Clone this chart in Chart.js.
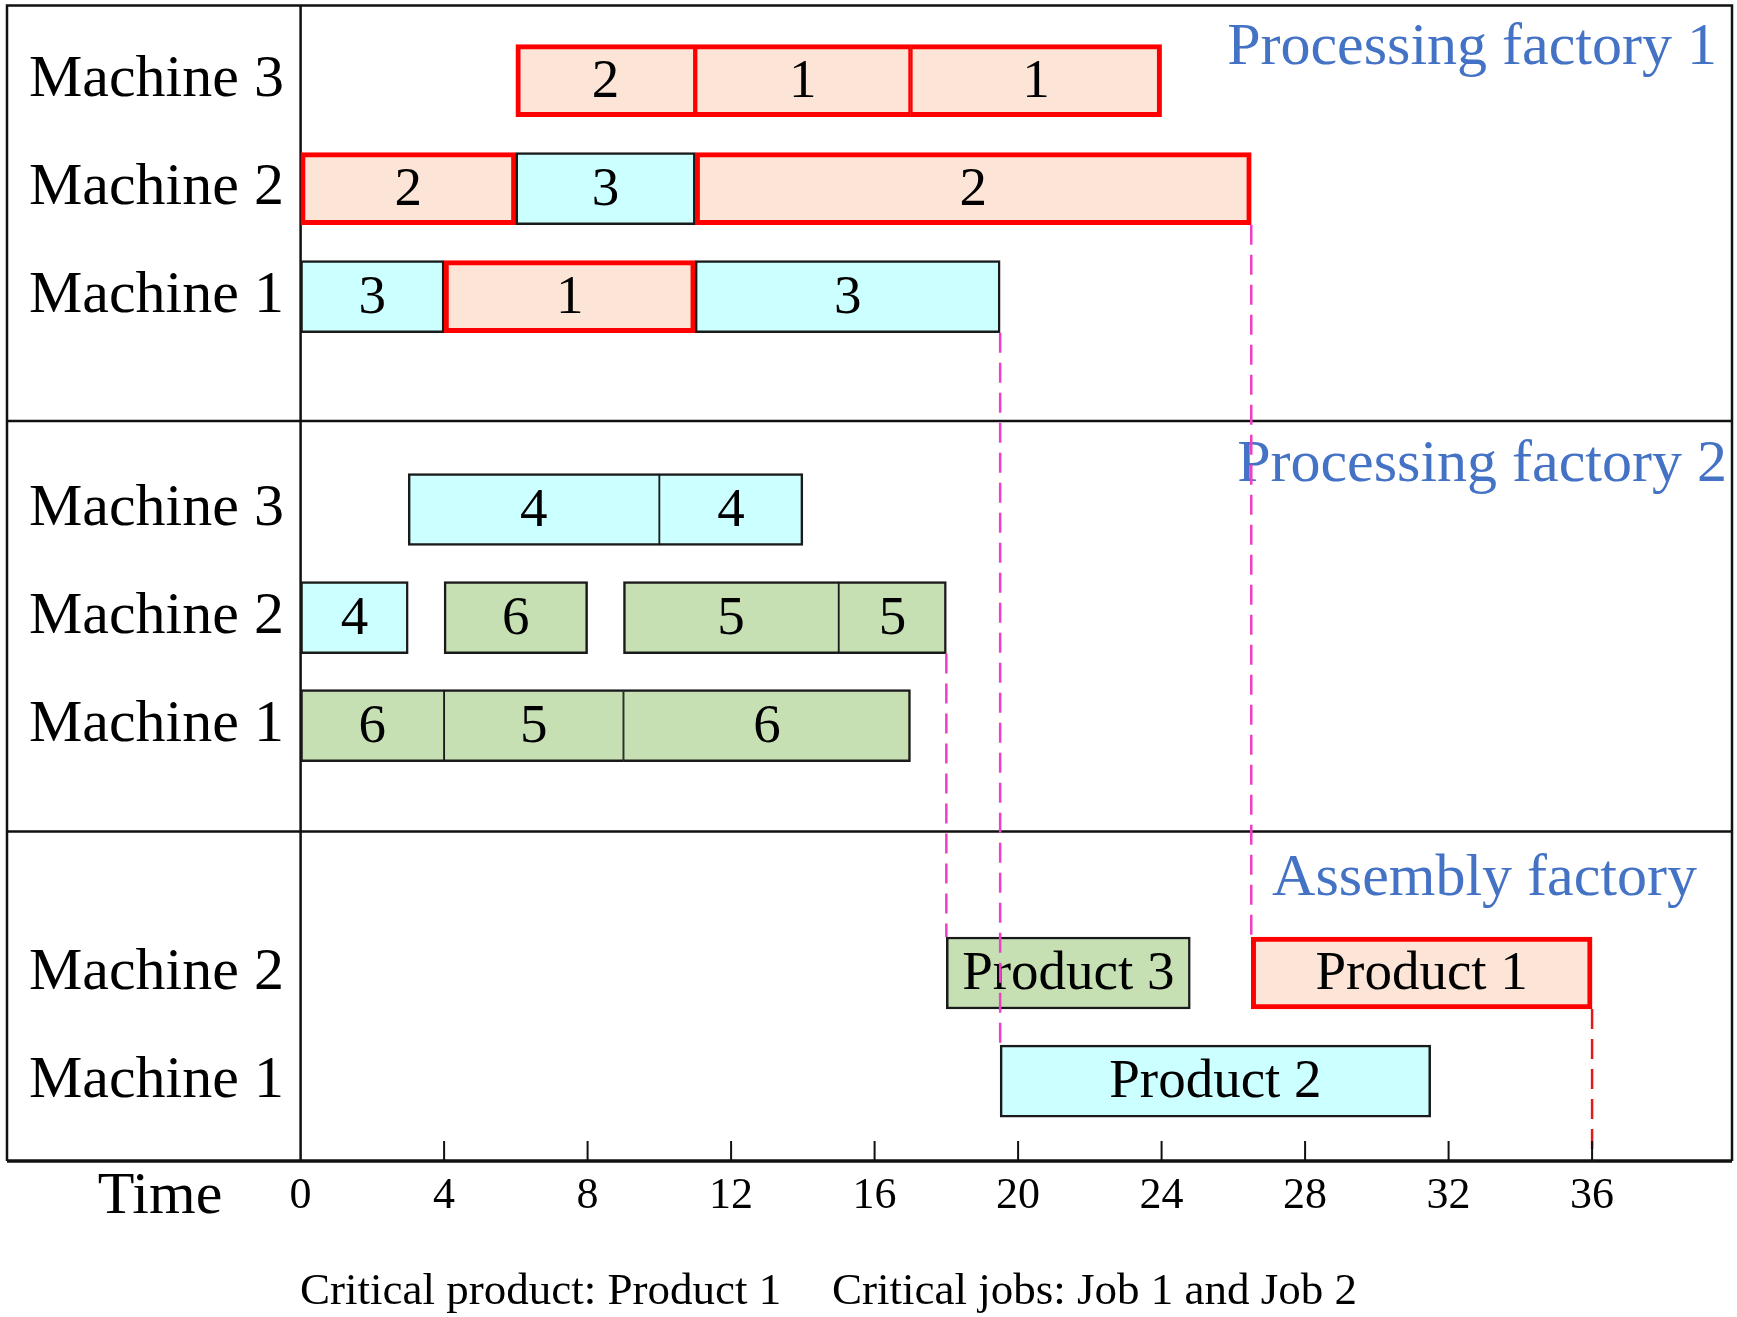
<!DOCTYPE html>
<html>
<head>
<meta charset="utf-8">
<title>Distributed scheduling Gantt chart</title>
<script src="https://cdn.jsdelivr.net/npm/chart.js@4.4.1/dist/chart.umd.min.js"></script>
<style>
  html, body { margin: 0; padding: 0; background: #fff; }
  #gantt { display: block; }
</style>
</head>
<body>
<canvas id="gantt" width="1737" height="1317"></canvas>
<script>
// operations on each machine: [start, end, job]
let pf1Machine3 = [[6, 11, 2], [11, 17, 1], [17, 24, 1]];
let pf1Machine2 = [[0, 6, 2], [6, 11, 3], [11, 26.5, 2]];
let pf1Machine1 = [[0, 4, 3], [4, 11, 1], [11, 19.5, 3]];
let pf2Machine3 = [[3, 10, 4], [10, 14, 4]];
let pf2Machine2 = [[0, 3, 4], [4, 8, 6], [9, 15, 5], [15, 18, 5]];
let pf2Machine1 = [[0, 4, 6], [4, 9, 5], [9, 17, 6]];
// assembly: [start, end, product]
let asmMachine2 = [[18, 24.8, 3], [26.5, 36, 1]];
let asmMachine1 = [[19.5, 31.5, 2]];

let timeTicks = [0, 4, 8, 12, 16, 20, 24, 28, 32, 36];
let makespan = 36;

// dashed hand-over lines: time, row where the job ends, row where the product starts
let handoffTimes = [19.5, 26.5, 18];
let handoffFrom = [2, 1, 4];
let handoffTo = [7, 6, 6];

let factoryTitles = ['Processing factory 1', 'Processing factory 2', 'Assembly factory'];
let noteParts = ['Critical product: Product 1', 'Critical jobs: Job 1 and Job 2'];

// rows of the chart (y is in row units, 0 = time axis)
let rows = [
    {label: 'Machine 3', y: 10, tasks: pf1Machine3, kind: 'job'},
    {label: 'Machine 2', y: 9, tasks: pf1Machine2, kind: 'job'},
    {label: 'Machine 1', y: 8, tasks: pf1Machine1, kind: 'job'},
    {label: 'Machine 3', y: 6.03, tasks: pf2Machine3, kind: 'job'},
    {label: 'Machine 2', y: 5.03, tasks: pf2Machine2, kind: 'job'},
    {label: 'Machine 1', y: 4.03, tasks: pf2Machine1, kind: 'job'},
    {label: 'Machine 2', y: 1.74, tasks: asmMachine2, kind: 'product'},
    {label: 'Machine 1', y: 0.74, tasks: asmMachine1, kind: 'product'}
];
let panelEdges = [6.85, 3.05];
let yTop = 10.7;
let barHalf = 0.333;

let fills = {1: '#FCE4D6', 2: '#CCFFFF', 3: '#C6E0B4'};
let borders = {1: '#FF0000', 2: '#1a1a1a', 3: '#1a1a1a'};
let serif = '"Liberation Serif", "Times New Roman", serif';

// flat list of bars
let tasks = [];
rows.forEach(function(row) {
    let groupOf = function(o) { return row.kind === 'job' ? Math.ceil(o[2] / 2) : o[2]; };
    row.tasks.forEach(function(t, i) {
        let group = groupOf(t);
        let prev = row.tasks[i - 1];
        let next = row.tasks[i + 1];
        tasks.push({
            x: [t[0], t[1]],
            y: row.y,
            group: group,
            text: row.kind === 'job' ? String(t[2]) : 'Product ' + t[2],
            joinLeft: !!(prev && prev[1] === t[0] && groupOf(prev) === group),
            joinRight: !!(next && next[0] === t[1] && groupOf(next) === group)
        });
    });
});

let datasets = [{
    type: 'bar',
    data: tasks,
    order: 2,
    barThickness: 72,
    borderSkipped: false,
    backgroundColor: function(c) { return c.raw ? fills[c.raw.group] : '#fff'; },
    borderColor: function(c) { return c.raw ? borders[c.raw.group] : '#000'; },
    borderWidth: function(c) {
        if (!c.raw) return 2;
        let w = c.raw.group === 1 ? 5 : 2.5;
        return {top: w, bottom: w, left: c.raw.joinLeft ? w / 2 : w, right: c.raw.joinRight ? w / 2 : w};
    }
}];

handoffTimes.forEach(function(t, i) {
    datasets.push({
        type: 'line',
        data: [{x: t, y: rows[handoffFrom[i]].y - barHalf}, {x: t, y: rows[handoffTo[i]].y + barHalf}],
        borderColor: '#EE3FC6',
        borderWidth: 2.5,
        borderDash: [20, 10],
        pointRadius: 0,
        order: 1
    });
});
datasets.push({
    type: 'line',
    data: [{x: makespan, y: rows[6].y - barHalf}, {x: makespan, y: 0}],
    borderColor: '#E3191C',
    borderWidth: 2.5,
    borderDash: [20, 10],
    pointRadius: 0,
    order: 1
});

function rowLabel(value) {
    let r = rows.find(function(row) { return Math.abs(row.y - value) < 1e-6; });
    return r ? r.label : '';
}

let barText = {
    id: 'barText',
    afterDatasetDraw: function(chart, args) {
        if (args.index !== 0) return;
        let ctx = chart.ctx;
        ctx.save();
        ctx.font = '55px ' + serif;
        ctx.fillStyle = '#000';
        ctx.textAlign = 'center';
        ctx.textBaseline = 'middle';
        args.meta.data.forEach(function(bar, i) {
            let p = bar.getProps(['x', 'y', 'base'], true);
            ctx.fillText(tasks[i].text, (p.x + p.base) / 2, p.y + 2);
        });
        ctx.restore();
    }
};

let frame = {
    id: 'frame',
    beforeDraw: function(chart) {
        let ctx = chart.ctx;
        ctx.save();
        ctx.fillStyle = '#fff';
        ctx.fillRect(0, 0, chart.width, chart.height);
        ctx.restore();
    },
    beforeDatasetsDraw: function(chart) {
        let ctx = chart.ctx;
        let a = chart.chartArea;
        let y = chart.scales.y;
        ctx.save();
        ctx.strokeStyle = '#111';
        ctx.lineWidth = 2.5;
        ctx.beginPath();
        ctx.moveTo(7, a.bottom);
        ctx.lineTo(7, a.top + 0.5);
        ctx.lineTo(a.right, a.top + 0.5);
        ctx.lineTo(a.right, a.bottom);
        ctx.moveTo(a.left, a.top);
        ctx.lineTo(a.left, a.bottom);
        panelEdges.forEach(function(v) {
            let py = y.getPixelForValue(v);
            ctx.moveTo(7, py);
            ctx.lineTo(a.right, py);
        });
        ctx.stroke();
        ctx.lineWidth = 3.5;
        ctx.beginPath();
        ctx.moveTo(7, a.bottom);
        ctx.lineTo(a.right, a.bottom);
        ctx.stroke();

        // factory names, top right of each panel
        let tops = [yTop].concat(panelEdges);
        let rightGap = [15, 5, 35];
        let drop = [59, 60, 64];
        ctx.font = '60px ' + serif;
        ctx.fillStyle = '#4472C4';
        ctx.textAlign = 'right';
        ctx.textBaseline = 'alphabetic';
        factoryTitles.forEach(function(t, i) {
            ctx.fillText(t, a.right - rightGap[i], y.getPixelForValue(tops[i]) + drop[i]);
        });
        ctx.restore();
    },
    afterDraw: function(chart) {
        let ctx = chart.ctx;
        let a = chart.chartArea;
        let x = chart.scales.x;
        ctx.save();
        // small inward tick marks
        ctx.strokeStyle = '#111';
        ctx.lineWidth = 2;
        ctx.beginPath();
        timeTicks.forEach(function(v) {
            if (v === 0) return;
            let px = x.getPixelForValue(v);
            ctx.moveTo(px, a.bottom);
            ctx.lineTo(px, a.bottom - 20);
        });
        ctx.stroke();

        ctx.fillStyle = '#000';
        ctx.font = '60px ' + serif;
        ctx.textAlign = 'center';
        ctx.textBaseline = 'middle';
        ctx.fillText('Time', 160, a.bottom + 36);

        ctx.font = '45px ' + serif;
        ctx.textAlign = 'left';
        ctx.textBaseline = 'alphabetic';
        ctx.fillText(noteParts[0], 300, 1304);
        ctx.fillText(noteParts[1], 832, 1304);
        ctx.restore();
    }
};

let config = {
    type: 'bar',
    data: {datasets: datasets},
    options: {
        indexAxis: 'y',
        responsive: false,
        animation: false,
        devicePixelRatio: 1,
        layout: {padding: {left: 29, right: 5, top: 5, bottom: 0}},
        plugins: {
            legend: {display: false},
            tooltip: {enabled: false}
        },
        scales: {
            x: {
                type: 'linear',
                min: 0,
                max: 39.9,
                offset: false,
                grid: {display: false, drawTicks: false},
                border: {display: false},
                afterBuildTicks: function(scale) {
                    scale.ticks = timeTicks.map(function(v) { return {value: v}; });
                },
                afterFit: function(scale) {
                    scale.height = 156;
                    scale.paddingLeft = 0;
                    scale.paddingRight = 0;
                },
                ticks: {
                    autoSkip: false,
                    maxRotation: 0,
                    padding: 9,
                    color: '#000',
                    font: {family: serif, size: 44}
                }
            },
            y: {
                type: 'linear',
                min: 0,
                max: yTop,
                offset: false,
                grid: {display: false, drawTicks: false},
                border: {display: false},
                afterBuildTicks: function(scale) {
                    scale.ticks = rows.map(function(r) { return {value: r.y}; });
                },
                afterFit: function(scale) {
                    scale.width = 271.6;
                    scale.paddingTop = 0;
                    scale.paddingBottom = 0;
                },
                ticks: {
                    autoSkip: false,
                    crossAlign: 'far',
                    color: '#000',
                    font: {family: serif, size: 60},
                    callback: function(value) { return rowLabel(value); }
                }
            }
        }
    },
    plugins: [frame, barText]
};

let myChart = new Chart(document.getElementById('gantt'), config);
</script>
</body>
</html>
